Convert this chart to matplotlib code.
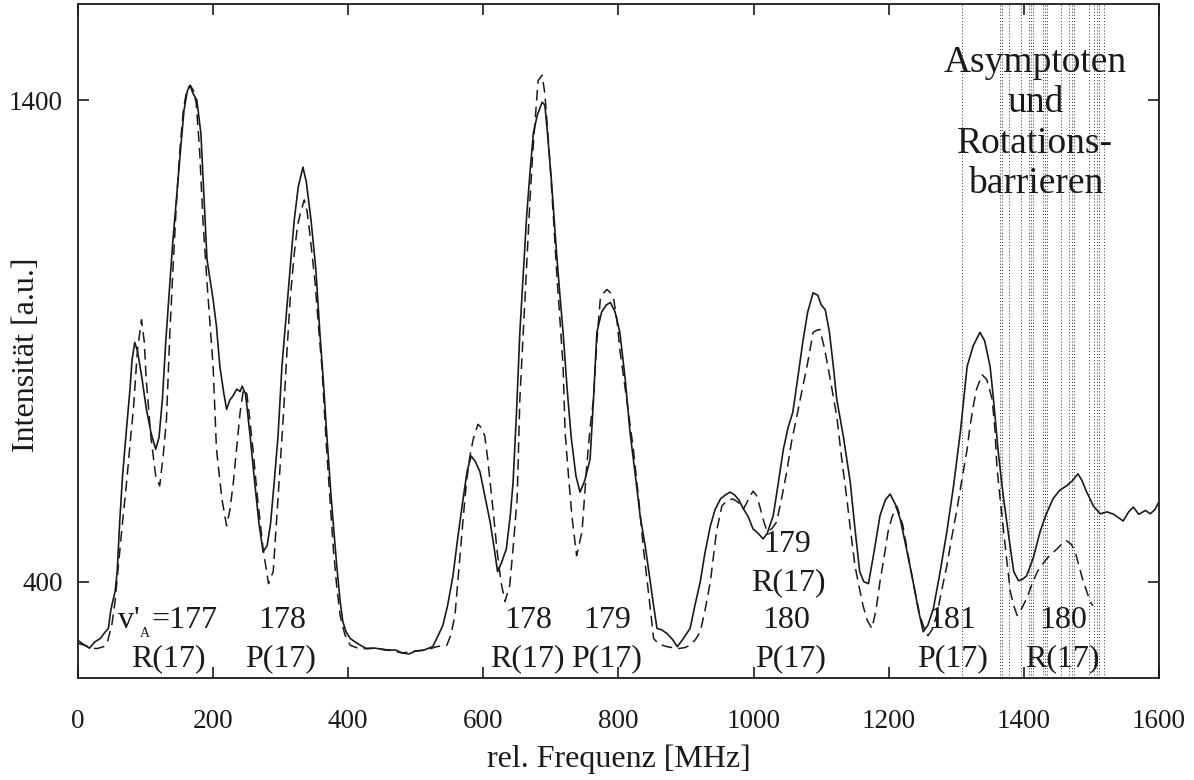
import numpy as np
import matplotlib.pyplot as plt

plt.rcParams['font.family'] = ['Liberation Serif', 'DejaVu Serif']

## gemessenes Spektrum (durchgezogen)
mess_x = [0, 8, 17, 25, 33, 40, 45, 48, 50, 55, 58, 62, 66, 72, 77, 80, 84, 88, 95, 101,
          108, 115, 120, 125, 130, 135, 140, 146, 152, 157, 162, 166, 170, 176, 182, 191, 200, 205, 210, 216,
          220, 225, 229, 235, 240, 243, 248, 255, 262, 268, 274, 280, 285, 290, 296, 302, 308, 314, 320, 326,
          333, 338, 345, 352, 358, 363, 368, 375, 383, 388, 392, 397, 403, 410, 418, 427, 440, 455, 470, 480,
          490, 500, 512, 525, 532, 540, 547, 555, 562, 570, 576, 582, 588, 595, 602, 610, 616, 621, 627, 634,
          640, 644, 649, 654, 659, 664, 669, 674, 680, 687, 691, 695, 701, 708, 713, 718, 724, 730, 737, 743,
          750, 758, 763, 768, 775, 782, 788, 795, 802, 810, 817, 825, 832, 840, 847, 852, 857, 864, 872, 880,
          887, 895, 906, 913, 921, 928, 936, 943, 951, 958, 965, 972, 978, 985, 992, 999, 1007, 1014, 1020, 1029,
          1036, 1044, 1051, 1058, 1065, 1073, 1080, 1088, 1095, 1100, 1106, 1112, 1118, 1123, 1133, 1143, 1150, 1157, 1163, 1170,
          1178, 1187, 1195, 1202, 1210, 1217, 1226, 1236, 1244, 1251, 1258, 1266, 1276, 1286, 1296, 1306, 1316, 1325, 1335, 1342,
          1350, 1355, 1362, 1370, 1378, 1385, 1392, 1398, 1404, 1414, 1424, 1433, 1443, 1453, 1463, 1472, 1480, 1486, 1493, 1503,
          1513, 1523, 1533, 1547, 1555, 1562, 1570, 1580, 1587, 1594, 1600]
mess_y = [278, 270, 262, 275, 282, 295, 303, 335, 350, 380, 420, 530, 620, 720, 800, 860, 897, 880, 820, 760,
          710, 675, 700, 780, 900, 1000, 1100, 1200, 1300, 1380, 1420, 1431, 1415, 1400, 1330, 1069, 986, 930, 847, 790,
          758, 778, 785, 800, 795, 806, 790, 700, 600, 520, 462, 475, 520, 600, 700, 850, 950, 1050, 1150, 1220,
          1261, 1230, 1150, 1050, 918, 820, 711, 570, 433, 360, 317, 295, 282, 275, 268, 261, 262, 258, 258, 252,
          250, 256, 258, 265, 285, 309, 350, 412, 490, 572, 630, 661, 650, 628, 580, 524, 470, 421, 440, 468,
          540, 607, 750, 918, 1040, 1158, 1250, 1332, 1370, 1396, 1390, 1330, 1228, 1089, 1000, 918, 800, 700, 620, 586,
          610, 655, 779, 918, 960, 975, 980, 960, 918, 820, 711, 620, 537, 470, 400, 350, 303, 300, 292, 280,
          265, 280, 303, 350, 400, 460, 516, 550, 572, 580, 586, 580, 570, 551, 535, 510, 500, 489, 500, 537,
          600, 675, 720, 752, 820, 900, 960, 1000, 995, 975, 965, 920, 847, 779, 700, 607, 510, 421, 400, 396,
          460, 537, 570, 582, 560, 530, 470, 400, 340, 296, 310, 344, 420, 504, 600, 711, 847, 890, 918, 900,
          847, 779, 670, 572, 490, 421, 402, 405, 412, 450, 504, 540, 572, 590, 599, 610, 624, 610, 586, 557,
          541, 545, 540, 526, 545, 555, 540, 548, 541, 550, 566]

## Simulation (gestrichelt)
sim_x = [0, 10, 20, 28, 38, 43, 50, 55, 58, 65, 72, 78, 82, 88, 94, 98, 101, 108, 115, 121,
         126, 131, 136, 141, 146, 151, 156, 161, 166, 171, 175, 180, 185, 191, 200, 205, 213, 220, 225, 230,
         235, 240, 245, 250, 254, 259, 266, 274, 282, 289, 296, 304, 309, 314, 320, 325, 330, 335, 339, 343,
         351, 356, 361, 368, 373, 378, 383, 388, 395, 403, 412, 422, 440, 460, 480, 500, 515, 531, 546, 552,
         558, 565, 570, 575, 580, 585, 592, 597, 602, 606, 610, 615, 620, 626, 632, 639, 644, 650, 654, 659,
         664, 669, 673, 677, 681, 687, 691, 695, 699, 704, 708, 713, 718, 721, 726, 731, 738, 746, 753, 758,
         763, 768, 773, 778, 783, 788, 793, 798, 802, 812, 822, 830, 837, 845, 852, 860, 872, 888, 898, 906,
         914, 921, 928, 936, 945, 953, 960, 969, 977, 985, 992, 999, 1004, 1009, 1015, 1020, 1027, 1034, 1041, 1049,
         1056, 1064, 1072, 1079, 1088, 1093, 1098, 1104, 1110, 1116, 1123, 1130, 1138, 1144, 1150, 1156, 1162, 1168, 1175, 1181,
         1187, 1193, 1199, 1205, 1212, 1216, 1221, 1228, 1236, 1241, 1246, 1252, 1258, 1264, 1271, 1278, 1286, 1293, 1301, 1308,
         1316, 1320, 1325, 1330, 1338, 1345, 1349, 1353, 1357, 1360, 1365, 1370, 1375, 1380, 1385, 1390, 1397, 1404, 1412, 1420,
         1427, 1434, 1441, 1449, 1456, 1463, 1470, 1476, 1482, 1488, 1493, 1498, 1502]
sim_y = [272, 268, 262, 261, 265, 272, 309, 360, 406, 510, 607, 700, 758, 880, 944, 900, 820, 700, 620, 599,
         660, 737, 918, 1060, 1193, 1300, 1380, 1421, 1431, 1420, 1394, 1297, 1150, 1021, 847, 675, 572, 516, 550, 607,
         680, 752, 800, 790, 740, 675, 570, 468, 396, 421, 572, 744, 870, 986, 1080, 1140, 1170, 1193, 1170, 1125,
         1021, 930, 847, 675, 570, 468, 390, 330, 290, 268, 263, 261, 262, 258, 252, 256, 258, 265, 268, 290,
         330, 448, 530, 607, 660, 696, 727, 720, 703, 660, 607, 540, 468, 400, 359, 392, 470, 572, 779, 918,
         1060, 1193, 1290, 1365, 1441, 1452, 1414, 1340, 1261, 1150, 1054, 950, 847, 711, 620, 537, 454, 504, 640, 720,
         779, 900, 986, 1000, 1007, 1000, 986, 940, 882, 780, 675, 570, 468, 370, 282, 270, 265, 261, 263, 268,
         280, 296, 340, 400, 504, 557, 568, 572, 565, 551, 570, 588, 580, 557, 525, 504, 510, 524, 570, 628,
         690, 744, 800, 847, 918, 922, 924, 890, 847, 800, 744, 660, 572, 500, 433, 390, 350, 320, 303, 340,
         400, 450, 504, 535, 557, 540, 516, 460, 400, 365, 330, 305, 288, 300, 330, 380, 433, 490, 551, 610,
         675, 720, 764, 800, 830, 820, 800, 779, 720, 640, 570, 504, 440, 379, 350, 330, 345, 365, 395, 421,
         435, 448, 458, 468, 478, 485, 478, 462, 430, 400, 380, 359, 350]

## Asymptoten und Rotationsbarrieren [MHz]
asymptoten = [1308, 1365, 1367, 1378.5, 1396, 1407.6, 1410.6, 1414, 1428.4, 1431.3, 1434.3,
              1455, 1467.3, 1470.8, 1474.3, 1497, 1504.3, 1507.9, 1511.7, 1519]

## Zuordnung der Linien: (x, y, Text)
etiketten = [(133, 241, "R(17)"),
             (302, 319, "178"), (300, 241, "P(17)"),
             (666, 319, "178"), (665, 241, "R(17)"),
             (784, 319, "179"), (783, 241, "P(17)"),
             (1050, 477, "179"), (1052, 398, "R(17)"), (1048, 319, "180"), (1055, 241, "P(17)"),
             (1294, 319, "181"), (1294, 241, "P(17)"),
             (1458, 319, "180"), (1457, 241, "R(17)")]

fig = plt.figure(figsize=(11.94, 7.8), dpi=100)
ax = fig.add_axes([0.0653, 0.1308, 0.9054, 0.8641])

for xa in asymptoten:
    ax.axvline(xa, color='#333333', lw=0.7, ls=(0, (1, 2.2)), zorder=1)

ax.plot(mess_x, mess_y, color='#1a1a1a', lw=1.2, zorder=3)
ax.plot(sim_x, sim_y, color='#1a1a1a', lw=1.1, dashes=(7, 4), zorder=3)

for xe, ye, t in etiketten:
    ax.text(xe, ye, t, fontsize=23, ha='center', va='center', color='#1a1a1a', zorder=4)

# v'_A = 177 aus Einzelteilen, damit der Index klein bleibt
ax.text(59, 319, "v'", fontsize=23, ha='left', va='center', color='#1a1a1a', zorder=4)
ax.text(91, 292, "A", fontsize=10, ha='left', va='center', color='#1a1a1a', zorder=4)
ax.text(109, 319, "=177", fontsize=23, ha='left', va='center', color='#1a1a1a', zorder=4)

for i, t in enumerate(["Asymptoten", "und", "Rotations-", "barrieren"]):
    ax.text(1417, 1478 - i * 84, t, fontsize=27, ha='center', va='center', color='#1a1a1a', zorder=4)

ax.set_xlim(0, 1600)
ax.set_ylim(200, 1600)
ax.set_xticks(np.arange(0, 1601, 200))
ax.set_yticks([400, 1400])
ax.tick_params(direction='in', top=True, right=True, length=8, width=1.2,
               labelsize=19.5, colors='#1a1a1a')
ax.tick_params(axis='x', pad=22)
ax.tick_params(axis='y', pad=11)
for s in ax.spines.values():
    s.set_linewidth(1.3)
    s.set_color('#1a1a1a')

ax.set_xlabel("rel. Frequenz [MHz]", fontsize=23, labelpad=8, color='#1a1a1a')
ax.set_ylabel("Intensität [a.u.]", fontsize=23, color='#1a1a1a')
ax.yaxis.set_label_coords(-0.034, 0.48)

plt.savefig('out.png', format='png')
